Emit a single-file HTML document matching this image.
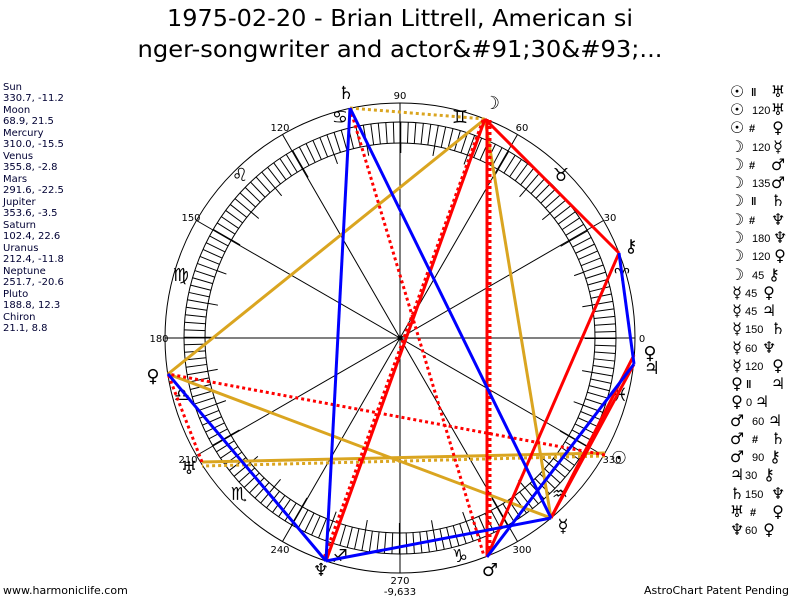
<!DOCTYPE html>
<html><head><meta charset="utf-8"><style>
body{margin:0;background:#fff;width:800px;height:600px;overflow:hidden;font-family:"DejaVu Sans",sans-serif}
</style></head><body>
<svg width="800" height="600" viewBox="0 0 800 600" xmlns="http://www.w3.org/2000/svg" font-family="DejaVu Sans, sans-serif">
<rect width="800" height="600" fill="#fff"/>
<text x="400" y="26" font-size="23" text-anchor="middle" fill="#000" textLength="466" lengthAdjust="spacingAndGlyphs">1975-02-20 - Brian Littrell, American si</text>
<text x="400" y="57" font-size="23" text-anchor="middle" fill="#000" textLength="525" lengthAdjust="spacingAndGlyphs">nger-songwriter and actor&amp;#91;30&amp;#93;...</text>
<g font-size="10" fill="#000033">
<text x="3" y="90">Sun</text><text x="3" y="101">330.7, -11.2</text>
<text x="3" y="113">Moon</text><text x="3" y="124">68.9, 21.5</text>
<text x="3" y="136">Mercury</text><text x="3" y="147">310.0, -15.5</text>
<text x="3" y="159">Venus</text><text x="3" y="170">355.8, -2.8</text>
<text x="3" y="182">Mars</text><text x="3" y="193">291.6, -22.5</text>
<text x="3" y="205">Jupiter</text><text x="3" y="216">353.6, -3.5</text>
<text x="3" y="228">Saturn</text><text x="3" y="239">102.4, 22.6</text>
<text x="3" y="251">Uranus</text><text x="3" y="262">212.4, -11.8</text>
<text x="3" y="274">Neptune</text><text x="3" y="285">251.7, -20.6</text>
<text x="3" y="297">Pluto</text><text x="3" y="308">188.8, 12.3</text>
<text x="3" y="320">Chiron</text><text x="3" y="331">21.1, 8.8</text>
</g>
<text x="3" y="594" font-size="11" fill="#000">www.harmoniclife.com</text>
<text x="789" y="594" font-size="11" fill="#000" text-anchor="end">AstroChart Patent Pending</text>
<g fill="none" stroke="#000" stroke-width="1">
<circle cx="400" cy="338" r="235"/>
<circle cx="400" cy="338" r="216"/>
<circle cx="400" cy="338" r="195"/>
<circle cx="400" cy="338" r="205.5" stroke-width="21" stroke-dasharray="1 6.173"/>
<circle cx="400" cy="338" r="190" stroke-width="10" stroke-dasharray="1 32.16"/>
<line x1="165" y1="338" x2="635" y2="338"/>
<line x1="400" y1="103" x2="400" y2="573"/>
<line x1="196.5" y1="220.5" x2="603.5" y2="455.5"/>
<line x1="196.5" y1="455.5" x2="603.5" y2="220.5"/>
<line x1="282.5" y1="134.5" x2="517.5" y2="541.5"/>
<line x1="282.5" y1="541.5" x2="517.5" y2="134.5"/>
</g>
<circle cx="400" cy="338" r="2.5" fill="#000"/>
<g font-size="10" fill="#000" text-anchor="middle">
<text x="642" y="342">0</text><text x="610" y="221">30</text><text x="522" y="131">60</text>
<text x="400" y="99">90</text><text x="280" y="131">120</text><text x="191" y="221">150</text>
<text x="159" y="342">180</text><text x="188" y="463">210</text><text x="280" y="553">240</text>
<text x="400" y="584">270</text><text x="400" y="595">-9,633</text><text x="522" y="553">300</text><text x="612" y="463">330</text>
</g>
<g font-size="18" fill="#000" text-anchor="middle">
<text x="622" y="281">♈</text><text x="561" y="181">♉</text><text x="460" y="123">♊</text>
<text x="340" y="123">♋</text><text x="240" y="181">♌</text><text x="181" y="281">♍</text>
<text x="182" y="401">♎</text><text x="239" y="500">♏</text><text x="340" y="562">♐</text>
<text x="460" y="562">♑</text><text x="560" y="500">♒</text><text x="620" y="401">♓</text>
</g>
<g fill="none" stroke-width="3" stroke-linecap="butt">
<g stroke="#DAA520">
<line x1="485" y1="119" x2="168" y2="374"/>
<line x1="485" y1="119" x2="551" y2="518"/>
<line x1="551" y1="518" x2="168" y2="374"/>
<line x1="605" y1="453" x2="202" y2="462"/>
<line x1="605" y1="456" x2="202" y2="466" stroke-dasharray="3 3"/>
<line x1="350" y1="108" x2="485" y2="119" stroke-dasharray="3 3"/>
</g>
<g stroke="#FF0000">
<line x1="485" y1="119" x2="619" y2="253"/>
<line x1="485" y1="119" x2="326" y2="561"/>
<line x1="487" y1="119" x2="487" y2="557"/>
<line x1="619" y1="253" x2="487" y2="557"/>
<line x1="551" y1="518" x2="634" y2="355"/>
<line x1="551" y1="518" x2="634" y2="364"/>
<line x1="483" y1="120" x2="324" y2="558" stroke-dasharray="3 3"/>
<line x1="490" y1="120" x2="490" y2="555" stroke-dasharray="3 3"/>
<line x1="350" y1="108" x2="484" y2="556" stroke-dasharray="3 3"/>
<line x1="605" y1="455" x2="168" y2="374" stroke-dasharray="3 3"/>
<line x1="202" y1="462" x2="168" y2="374" stroke-dasharray="3 3"/>
</g>
<g stroke="#0000FF">
<line x1="350" y1="108" x2="326" y2="561"/>
<line x1="350" y1="108" x2="551" y2="518"/>
<line x1="326" y1="561" x2="551" y2="518"/>
<line x1="326" y1="561" x2="168" y2="374"/>
<line x1="619" y1="253" x2="634" y2="364"/>
<line x1="487" y1="557" x2="634" y2="364"/>
</g>
</g>
<g font-size="18" fill="#000" text-anchor="middle">
<text x="346" y="99">♄</text><text x="492" y="109">☽</text><text x="631" y="252">⚷</text>
<text x="650" y="359">♀</text><text x="652" y="374">♃</text><text x="619" y="464">☉</text>
<text x="563" y="532">☿</text><text x="490" y="576">♂</text><text x="321" y="576">♆</text>
<text x="153" y="382">♀</text><text x="189" y="474">♅</text>
</g>
<g fill="#000">
<g font-size="16" text-anchor="middle">
<text x="737" y="97">☉</text><text x="737" y="115">☉</text><text x="737" y="133">☉</text>
<text x="737" y="152">☽</text><text x="737" y="170">☽</text><text x="737" y="188">☽</text>
<text x="737" y="206">☽</text><text x="737" y="225">☽</text><text x="737" y="243">☽</text>
<text x="737" y="261">☽</text><text x="737" y="280">☽</text><text x="737" y="298">☿</text>
<text x="737" y="316">☿</text><text x="737" y="334">☿</text><text x="737" y="353">☿</text>
<text x="737" y="371">☿</text><text x="737" y="389">♀</text><text x="737" y="407">♀</text>
<text x="737" y="426">♂</text><text x="737" y="444">♂</text><text x="737" y="462">♂</text>
<text x="737" y="480">♃</text><text x="737" y="499">♄</text><text x="737" y="517">♅</text>
<text x="737" y="535">♆</text>
<text x="778" y="97">♅</text><text x="778" y="115">♅</text><text x="778" y="133">♀</text>
<text x="778" y="152">☿</text><text x="778" y="170">♂</text><text x="778" y="188">♂</text>
<text x="778" y="206">♄</text><text x="778" y="225">♆</text><text x="780" y="243">♆</text>
<text x="780" y="261">♀</text><text x="774" y="280">⚷</text><text x="769" y="298">♀</text>
<text x="769" y="316">♃</text><text x="778" y="334">♄</text><text x="769" y="353">♆</text>
<text x="778" y="371">♀</text><text x="778" y="389">♃</text><text x="762" y="407">♃</text>
<text x="775" y="426">♃</text><text x="778" y="444">♄</text><text x="775" y="462">⚷</text>
<text x="769" y="480">⚷</text><text x="778" y="499">♆</text><text x="778" y="517">♀</text>
<text x="769" y="535">♀</text>
</g>
<g font-size="11" font-family="Liberation Sans, sans-serif">
<text x="751" y="96" font-weight="bold">‖</text><text x="752" y="114">120</text><text x="749" y="132" font-weight="bold">#</text>
<text x="752" y="151">120</text><text x="749" y="169" font-weight="bold">#</text><text x="752" y="187">135</text>
<text x="751" y="205" font-weight="bold">‖</text><text x="749" y="224" font-weight="bold">#</text><text x="752" y="242">180</text>
<text x="752" y="260">120</text><text x="752" y="279">45</text><text x="745" y="297">45</text>
<text x="745" y="315">45</text><text x="745" y="333">150</text><text x="745" y="352">60</text>
<text x="745" y="370">120</text><text x="746" y="388" font-weight="bold">‖</text><text x="746" y="406">0</text>
<text x="752" y="425">60</text><text x="752" y="443" font-weight="bold">#</text><text x="752" y="461">90</text>
<text x="745" y="479">30</text><text x="745" y="498">150</text><text x="750" y="516" font-weight="bold">#</text>
<text x="745" y="534">60</text>
</g>
</g>
</svg>
</body></html>
